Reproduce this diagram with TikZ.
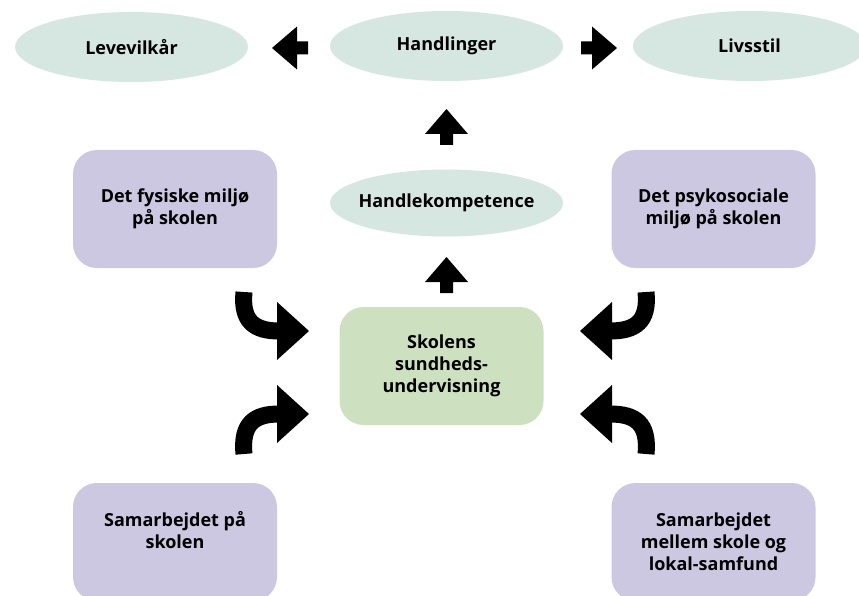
\documentclass[tikz,border=0pt]{standalone}
\usepackage{fontspec}
\setmainfont{Open Sans}
\usetikzlibrary{shapes.geometric}
\definecolor{ellfill}{RGB}{214,230,224}
\definecolor{boxfill}{RGB}{204,200,226}
\definecolor{greenfill}{RGB}{205,225,192}
\begin{document}
\begin{tikzpicture}[x=1pt,y=-1pt,
  txt/.style={font=\bfseries\fontsize{18}{22}\selectfont, align=center, text=black},
  ell/.style={ellipse, fill=ellfill, minimum width=233pt, minimum height=70pt, inner sep=0pt, txt},
  rbox/.style={rectangle, rounded corners=24pt, fill=boxfill, minimum width=204pt, minimum height=118pt, inner sep=0pt, txt},
  gbox/.style={rbox, fill=greenfill},
  blockarrow/.pic={\fill[black] (0,-6.5) -- (11,-6.5) -- (11,-21.5) -- (36,0) -- (11,21.5) -- (11,6.5) -- (0,6.5) -- cycle;},
  shaft/.style={draw=black, line width=17pt},
]
\clip (0,0) rectangle (859,596);
% ellipses
\node[ell] (lev) at (131.5,47) {Levevilkår};
\node[ell] (han) at (446.5,46) {Handlinger};
\node[ell] (liv) at (749.5,46) {Livsstil};
\node[ell, minimum height=67pt] (hk) at (446.5,203) {};
\node[txt] at (hk) {Handlekompetence};
% boxes
\node[rbox] (fys) at (175,209) {Det fysiske miljø\\på skolen};
\node[rbox] (psy) at (713.5,209) {Det psykosociale\\miljø på skolen};
\node[gbox] (sko) at (441.5,366) {Skolens\\sundheds-\\undervisning};
\node[rbox] (sps) at (175,542) {};
\node[txt] at (175,530) {Samarbejdet på\\skolen};
\node[rbox] (sml) at (713.5,542) {Samarbejdet\\mellem skole og\\lokal-samfund};
% straight block arrows
\pic at (308,48) [rotate=180] {blockarrow};
\pic at (581,48) {blockarrow};
\pic at (446.5,145) [rotate=90] {blockarrow};
\pic at (446.5,293) [rotate=90] {blockarrow};
% curved arrows, left
\coordinate (a1s) at (244,292);
\coordinate (a1e) at (279,331);
\draw[shaft] (a1s) .. controls (241,322) and (255,331) .. (a1e);
\fill (277,302) -- (309,331) -- (277,360) -- cycle;
\coordinate (a2s) at (244,454);
\coordinate (a2e) at (279,414);
\draw[shaft] (a2s) .. controls (241,423) and (255,414) .. (a2e);
\fill (277,385) -- (309,414) -- (277,443) -- cycle;
% curved arrows, right
\coordinate (a3s) at (646,292);
\coordinate (a3e) at (610,331);
\draw[shaft] (a3s) .. controls (649,322) and (635,331) .. (a3e);
\fill (612,302) -- (580,331) -- (612,360) -- cycle;
\coordinate (a4s) at (646,454);
\coordinate (a4e) at (610,414);
\draw[shaft] (a4s) .. controls (649,423) and (635,414) .. (a4e);
\fill (612,385) -- (580,414) -- (612,443) -- cycle;
\end{tikzpicture}
\end{document}
